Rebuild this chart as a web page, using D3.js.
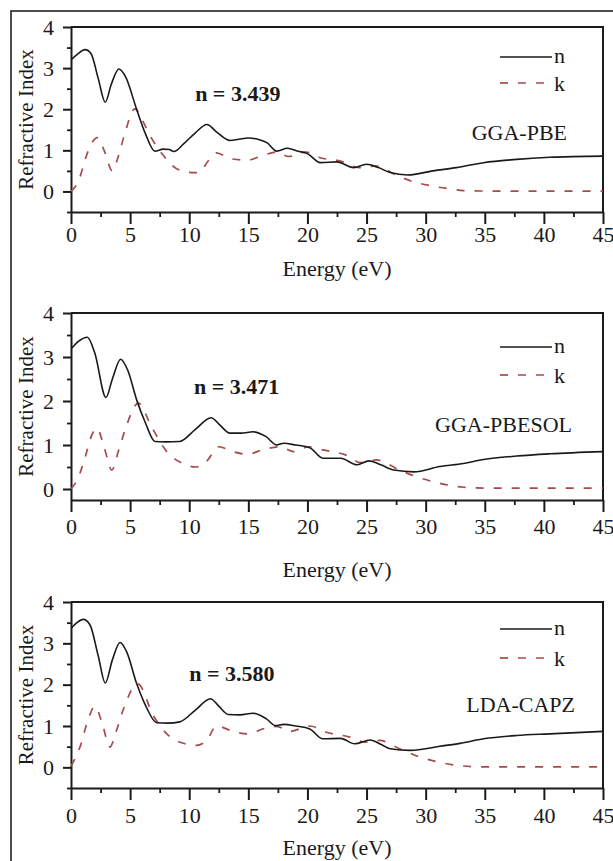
<!DOCTYPE html>
<html>
<head>
<meta charset="utf-8">
<script src="https://cdn.jsdelivr.net/npm/d3@7"></script>
<style>
  body { margin: 0; background: #fff; }
  svg text { font-family: "Liberation Serif", "Times New Roman", serif; fill: #1a1a1a; }
</style>
</head>
<body>
<div id="chart"></div>
<script>
// ---- data (energy in eV, value) ----
const xTicks = [0, 5, 10, 15, 20, 25, 30, 35, 40, 45];
const yTicks = [0, 1, 2, 3, 4];
const methods = ["GGA-PBE", "GGA-PBESOL", "LDA-CAPZ"];
const staticN = ["n = 3.439", "n = 3.471", "n = 3.580"];

// GGA-PBE
const pbeNE = [0, 0.5, 1.2, 1.7, 2.3, 2.9, 3.4, 4.05, 4.6, 5.55, 6.3, 7.1, 7.8, 8.3, 8.7, 9.5, 10.5, 11.5, 12.3, 13.45, 14.2, 15.0, 15.8, 16.6, 17.4, 18.3, 19.2, 20.0, 21.1, 22.5, 23.9, 25.0, 26.0, 27.0, 28.5, 30.6, 32.6, 34.9, 37.7, 40.5, 45];
const pbeN  = [3.20, 3.33, 3.45, 3.35, 2.75, 2.17, 2.6, 2.98, 2.8, 2.0, 1.4, 0.98, 1.03, 1.02, 0.97, 1.15, 1.42, 1.63, 1.45, 1.24, 1.27, 1.30, 1.27, 1.18, 0.98, 1.05, 0.98, 0.92, 0.70, 0.72, 0.58, 0.66, 0.58, 0.46, 0.40, 0.50, 0.58, 0.70, 0.78, 0.83, 0.86];
const pbeKE = [0, 0.7, 1.2, 1.8, 2.25, 2.8, 3.5, 4.0, 4.57, 5.4, 6.0, 6.7, 7.8, 8.9, 10.2, 10.8, 11.6, 12.3, 13.45, 14.9, 16.0, 17.4, 18.4, 19.9, 21.1, 22.8, 24.4, 25.8, 27.5, 28.7, 30.4, 32.1, 33.2, 35, 45];
const pbeK  = [0, 0.3, 0.78, 1.2, 1.31, 1.0, 0.5, 0.85, 1.43, 2.01, 1.75, 1.35, 0.88, 0.56, 0.46, 0.46, 0.74, 0.94, 0.80, 0.76, 0.85, 0.96, 0.85, 0.96, 0.82, 0.74, 0.58, 0.62, 0.40, 0.26, 0.14, 0.06, 0.02, 0.01, 0.01];

// GGA-PBESOL
const solNE = [0, 0.6, 1.38, 2.0, 2.96, 3.5, 4.2, 4.8, 5.56, 6.3, 7.1, 8.0, 9.2, 10.5, 11.85, 12.6, 13.45, 14.4, 15.4, 16.5, 17.4, 18.0, 19.0, 20.2, 21.3, 22.8, 24.2, 25.2, 26.2, 27.3, 29.0, 31.2, 33.2, 34.9, 37.7, 40.5, 45];
const solN  = [3.18, 3.35, 3.45, 3.1, 2.08, 2.5, 2.95, 2.7, 2.02, 1.5, 1.08, 1.07, 1.08, 1.35, 1.62, 1.45, 1.27, 1.27, 1.30, 1.19, 1.00, 1.04, 1.0, 0.94, 0.70, 0.70, 0.55, 0.64, 0.55, 0.43, 0.39, 0.51, 0.58, 0.67, 0.75, 0.80, 0.85];
const solKE = [0, 0.6, 1.2, 1.8, 2.2, 2.8, 3.45, 4.0, 4.57, 5.7, 6.8, 8.1, 9.3, 10.6, 11.5, 12.5, 13.7, 14.9, 16.3, 17.7, 18.8, 20.1, 21.3, 23.6, 24.4, 25.8, 27.8, 29.2, 31.2, 33.2, 35, 45];
const solK  = [0, 0.25, 0.73, 1.25, 1.38, 0.95, 0.43, 0.85, 1.34, 1.95, 1.42, 0.85, 0.6, 0.50, 0.64, 0.96, 0.85, 0.79, 0.90, 0.96, 0.85, 0.96, 0.89, 0.73, 0.60, 0.66, 0.43, 0.28, 0.13, 0.04, 0.02, 0.02];

// LDA-CAPZ
const ldaNE = [0, 0.5, 1.04, 1.6, 2.3, 2.9, 3.5, 4.15, 4.7, 5.56, 6.3, 7.25, 8.2, 9.2, 10.5, 11.8, 12.5, 13.3, 14.3, 15.4, 16.5, 17.3, 18.0, 19.0, 20.2, 21.3, 22.8, 24.0, 25.3, 26.2, 27.0, 28.7, 31.2, 32.9, 34.9, 37.7, 40.5, 45];
const ldaN  = [3.36, 3.5, 3.58, 3.45, 2.7, 2.04, 2.6, 3.02, 2.8, 2.02, 1.5, 1.08, 1.07, 1.1, 1.38, 1.66, 1.48, 1.28, 1.27, 1.31, 1.18, 1.01, 1.04, 1.0, 0.93, 0.69, 0.70, 0.57, 0.66, 0.56, 0.45, 0.41, 0.51, 0.58, 0.69, 0.77, 0.81, 0.87];
const ldaKE = [0, 0.76, 1.5, 2.03, 2.6, 3.3, 3.8, 4.4, 5.64, 6.97, 8.1, 9.3, 10.6, 11.5, 12.3, 13.7, 14.9, 16.5, 17.4, 18.5, 20.2, 21.6, 23.6, 24.9, 26.1, 27.8, 29.2, 31.2, 32.9, 35, 45];
const ldaK  = [0.03, 0.49, 1.2, 1.48, 1.1, 0.49, 0.85, 1.38, 2.02, 1.25, 0.81, 0.6, 0.53, 0.66, 1.0, 0.87, 0.81, 0.95, 0.99, 0.87, 1.0, 0.85, 0.73, 0.61, 0.65, 0.45, 0.28, 0.12, 0.04, 0.01, 0.01];

// ---- layout ----
const width = 613;
const height = 861;
const left = 71, right = 603;
const nColor = "#1a1a1a";
const kColor = "#a84a4d";

// panel frames (pixel rows) and per-panel label offsets
const panels = [
    { top: 27,  bottom: 212, yMin: -0.5,  nE: pbeNE, n: pbeN, kE: pbeKE, k: pbeK,
      tickPad: 2, xLabelDy: 64, legY: [30, 56], methodX: 36, methodY: 113, nLab: [10.5, 2.19] },
    { top: 313, bottom: 500, yMin: -0.25, nE: solNE, n: solN, kE: solKE, k: solK,
      tickPad: 6, xLabelDy: 77, legY: [34, 62], methodX: 31, methodY: 119, nLab: [10.4, 2.17] },
    { top: 602, bottom: 788, yMin: -0.5,  nE: ldaNE, n: ldaN, kE: ldaKE, k: ldaK,
      tickPad: 7, xLabelDy: 67, legY: [27, 56], methodX: 28, methodY: 110, nLab: [10.0, 2.1] }
];

const svg = d3.select("#chart")
    .append("svg")
    .attr("width", width)
    .attr("height", height);

// outer frame of the figure
svg.append("rect")
    .attr("x", 11).attr("y", 11)
    .attr("width", 640).attr("height", 900)
    .attr("fill", "none")
    .attr("stroke", "#222")
    .attr("stroke-width", 1.6);

const xScale = d3.scaleLinear().domain([0, 45]).range([left, right]);

panels.forEach((p, i) => {
    const yScale = d3.scaleLinear().domain([p.yMin, 4]).range([p.bottom, p.top]);
    const g = svg.append("g");

    const clipId = "clip" + i;
    g.append("clipPath").attr("id", clipId)
        .append("rect")
        .attr("x", left).attr("y", p.top)
        .attr("width", right - left).attr("height", p.bottom - p.top);

    // minor ticks
    const xMinor = d3.axisBottom(xScale)
        .tickValues(d3.range(2.5, 45, 5)).tickSize(5).tickFormat("");
    g.append("g")
        .attr("transform", `translate(0,${p.bottom})`)
        .call(xMinor)
        .call(a => a.select(".domain").remove())
        .call(a => a.selectAll("line").attr("stroke", "#1a1a1a").attr("stroke-width", 1.8));

    const yMinor = d3.axisLeft(yScale)
        .tickValues(d3.range(0.5, 4, 1).concat(p.yMin <= -0.5 ? [-0.5] : []))
        .tickSize(4).tickFormat("");
    g.append("g")
        .attr("transform", `translate(${left},0)`)
        .call(yMinor)
        .call(a => a.select(".domain").remove())
        .call(a => a.selectAll("line").attr("stroke", "#1a1a1a").attr("stroke-width", 1.8));

    // major axes
    const xAxis = d3.axisBottom(xScale)
        .tickValues(xTicks).tickSize(12).tickSizeOuter(0).tickPadding(p.tickPad)
        .tickFormat(d3.format("d"));
    g.append("g")
        .attr("transform", `translate(0,${p.bottom})`)
        .call(xAxis)
        .call(a => a.selectAll("line, path").attr("stroke", "#1a1a1a").attr("stroke-width", 2))
        .call(a => a.selectAll("text")
            .style("font-size", "22px")
            .attr("fill", "#1a1a1a"));

    const yAxis = d3.axisLeft(yScale)
        .tickValues(yTicks).tickSize(8).tickSizeOuter(0).tickPadding(9)
        .tickFormat(d3.format("d"));
    g.append("g")
        .attr("transform", `translate(${left},0)`)
        .call(yAxis)
        .call(a => a.selectAll("line, path").attr("stroke", "#1a1a1a").attr("stroke-width", 2))
        .call(a => a.selectAll("text")
            .style("font-size", "22px")
            .attr("fill", "#1a1a1a"));

    // top and right frame
    g.append("path")
        .attr("d", `M${left},${p.top}H${right}V${p.bottom}`)
        .attr("fill", "none")
        .attr("stroke", "#1a1a1a")
        .attr("stroke-width", 2);

    // curves
    const line = d3.line()
        .x(d => xScale(d[0]))
        .y(d => yScale(d[1]))
        .curve(d3.curveMonotoneX);

    g.append("path")
        .datum(p.kE.map((e, j) => [e, p.k[j]]))
        .attr("clip-path", `url(#${clipId})`)
        .attr("d", line)
        .attr("fill", "none")
        .attr("stroke", kColor)
        .attr("stroke-width", 1.7)
        .attr("stroke-dasharray", "8,10");

    g.append("path")
        .datum(p.nE.map((e, j) => [e, p.n[j]]))
        .attr("clip-path", `url(#${clipId})`)
        .attr("d", line)
        .attr("fill", "none")
        .attr("stroke", nColor)
        .attr("stroke-width", 1.6);

    // legend
    const legX0 = right - 103, legX1 = right - 51;
    g.append("line")
        .attr("x1", legX0).attr("x2", legX1)
        .attr("y1", p.top + p.legY[0]).attr("y2", p.top + p.legY[0])
        .attr("stroke", nColor).attr("stroke-width", 1.6);
    g.append("line")
        .attr("x1", legX0).attr("x2", legX1)
        .attr("y1", p.top + p.legY[1]).attr("y2", p.top + p.legY[1])
        .attr("stroke", kColor).attr("stroke-width", 1.7)
        .attr("stroke-dasharray", "8,10");
    g.append("text")
        .attr("x", legX1 + 2).attr("y", p.top + p.legY[0] + 6)
        .style("font-size", "22px")
        .text("n");
    g.append("text")
        .attr("x", legX1 + 2).attr("y", p.top + p.legY[1] + 8)
        .style("font-size", "22px")
        .text("k");

    // method name
    g.append("text")
        .attr("x", right - p.methodX).attr("y", p.top + p.methodY)
        .style("text-anchor", "end")
        .style("font-size", "22px")
        .text(methods[i]);

    // static refractive index
    g.append("text")
        .attr("x", xScale(p.nLab[0])).attr("y", yScale(p.nLab[1]))
        .style("font-size", "22px")
        .style("font-weight", "bold")
        .text(staticN[i]);

    // axis labels
    g.append("text")
        .attr("x", (left + right) / 2)
        .attr("y", p.bottom + p.xLabelDy)
        .style("text-anchor", "middle")
        .style("font-size", "22px")
        .text("Energy (eV)");

    g.append("text")
        .attr("transform", "rotate(-90)")
        .attr("x", -(p.top + p.bottom) / 2)
        .attr("y", 33)
        .style("text-anchor", "middle")
        .style("font-size", "21px")
        .text("Refractive Index");
});
</script>
</body>
</html>
